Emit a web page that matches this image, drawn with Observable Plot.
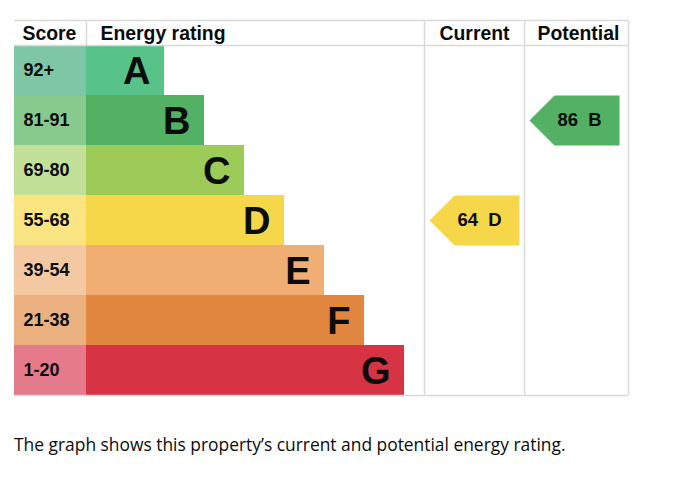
<!DOCTYPE html>
<html>
<head>
<meta charset="utf-8">
<script src="https://cdn.jsdelivr.net/npm/d3@7"></script>
<script src="https://cdn.jsdelivr.net/npm/@observablehq/plot@0.6"></script>
<style>
  body { margin: 0; background: #fff; }
  #chart svg { display: block; }
  #caption { margin: 20px 0 0 14px; font-family: "Open Sans", sans-serif; font-size: 17.4px; color: #0b0c0c; }
</style>
</head>
<body>
<div id="chart"></div>
<div id="caption">The graph shows this property’s current and potential energy rating.</div>
<script>
// ---- data ----
const bands = ["A", "B", "C", "D", "E", "F", "G"];
const scoreRanges = ["92+", "81-91", "69-80", "55-68", "39-54", "21-38", "1-20"];
const minScores = [92, 81, 69, 55, 39, 21, 1];
const barColors = ["#57c389", "#52b163", "#9ccb58", "#f7d74a", "#f0ae72", "#e0863e", "#d63444"];
const scoreColors = ["#7ec6a5", "#88ca8d", "#c2e097", "#fbe482", "#f4c9a1", "#ebb07f", "#e47a8a"];
const headers = ["Score", "Energy rating", "Current", "Potential"];
const currentScore = 64;
const potentialScore = 86;

// ---- layout (pixel units on an identity linear scale) ----
const W = 678, H = 412;
const FONT = "Liberation Sans";
const colScore = [14, 86], barStart = 86, barBase = 164, barStep = 40;
const colCurrent = [424, 524], colPotential = [524, 628];
const tableRight = 628;

const bandOf = s => minScores.findIndex(m => s >= m);

const rows = bands.map((b, i) => ({
  band: b, range: scoreRanges[i], i,
  barColor: barColors[i], scoreColor: scoreColors[i],
  end: barBase + barStep * i
}));

function arrow(score, col) {
  const i = bandOf(score);
  const tip = col[0] + 5, bodyL = tip + 25, right = tip + 90;
  return {
    i, label: `${score}  ${bands[i]}`, color: barColors[i],
    pts: [[tip, i + 0.5], [bodyL, i], [right, i], [right, i + 1], [bodyL, i + 1], [tip, i + 0.5]]
      .map(([x, y]) => ({x, y})),
    tx: bodyL + 3
  };
}
const arrows = [arrow(currentScore, colCurrent), arrow(potentialScore, colPotential)];

const gridColor = "#d9d9d9";
const hLines = [
  {x1: colScore[0], x2: tableRight, y: -0.5},
  {x1: colScore[0], x2: tableRight, y: 0},
  {x1: colScore[0], x2: tableRight, y: 7}
];
const vLines = [
  {x: colScore[1], y1: -0.5, y2: 0},
  {x: colCurrent[0], y1: -0.5, y2: 7},
  {x: colPotential[0], y1: -0.5, y2: 7},
  {x: tableRight, y1: -0.5, y2: 7}
];
const headerPos = [
  {t: headers[0], x: 22}, {t: headers[1], x: 100},
  {t: headers[2], x: 439}, {t: headers[3], x: 537}
];

const chart = Plot.plot({
  width: W, height: H,
  margin: 0,
  x: {domain: [0, W], range: [0, W], axis: null},
  y: {domain: [-0.5, 7], range: [20, 395], axis: null},
  marks: [
    Plot.rect(rows, {x1: colScore[0], x2: colScore[1], y1: d => d.i, y2: d => d.i + 1, fill: d => d.scoreColor}),
    Plot.rect(rows, {x1: barStart, x2: d => d.end, y1: d => d.i, y2: d => d.i + 1, fill: d => d.barColor}),
    Plot.text(rows, {x: colScore[0] + 9, y: d => d.i + 0.5, text: "range", textAnchor: "start",
      fontFamily: FONT, fontSize: 18, fontWeight: "bold", fill: "#0b0c0c", dy: 0}),
    Plot.text(rows, {x: d => d.end - 14, y: d => d.i + 0.5, text: "band", textAnchor: "end",
      fontFamily: FONT, fontSize: 38, fontWeight: "bold", fill: "#0b0c0c", dy: 1}),
    Plot.ruleY(hLines, {x1: "x1", x2: "x2", y: "y", stroke: gridColor, strokeWidth: 1.5}),
    Plot.ruleX(vLines, {x: "x", y1: "y1", y2: "y2", stroke: gridColor, strokeWidth: 1.5}),
    Plot.text(headerPos, {x: "x", y: -0.25, text: "t", textAnchor: "start", fontFamily: FONT, fontSize: 19.4,
      fontWeight: "bold", fill: "#0b0c0c", dy: 1}),
    ...arrows.map(a => Plot.line(a.pts, {x: "x", y: "y", fill: a.color, stroke: "none"})),
    Plot.text(arrows, {x: "tx", y: d => d.i + 0.5, text: "label", textAnchor: "start", fontFamily: FONT,
      fontSize: 18.5, fontWeight: "bold", fill: "#0b0c0c", dy: 0, style: "white-space: pre"})
  ]
});
document.getElementById("chart").appendChild(chart);
</script>
</body>
</html>
